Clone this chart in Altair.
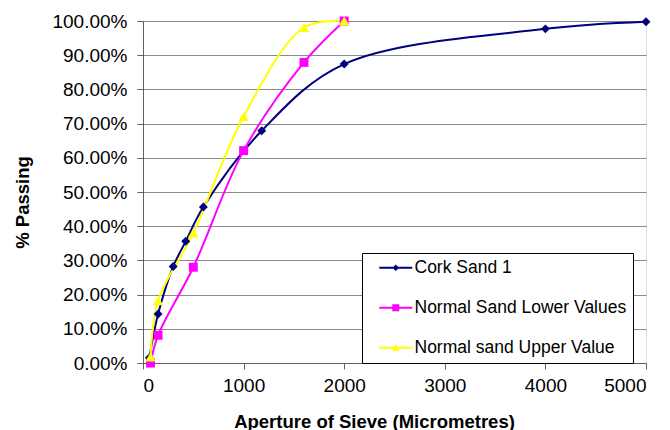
import altair as alt
import pandas as pd

SERIES = ["Cork Sand 1", "Normal Sand Lower Values", "Normal sand Upper Value"]
COLORS = ["#000080", "#FF00FF", "#FFFF00"]
MARKERS = ["diamond", "square", "triangle-up"]
MARKER_SIZES = [80, 80, 110]

CORK_X = [63, 150, 300, 425, 600, 1180, 2000, 4000, 5000]
CORK_Y = [0.015, 0.143, 0.282, 0.356, 0.456, 0.679, 0.874, 0.977, 0.998]
LOWER_X = [75, 150, 500, 1000, 1600, 2000]
LOWER_Y = [0.0, 0.081, 0.280, 0.621, 0.879, 1.0]
UPPER_X = [75, 150, 500, 1000, 1600, 2000]
UPPER_Y = [0.018, 0.182, 0.380, 0.721, 0.981, 1.0]

X_TICKS = [0, 1000, 2000, 3000, 4000, 5000]
Y_TICKS = [0, 0.1, 0.2, 0.3, 0.4, 0.5, 0.6, 0.7, 0.8, 0.9, 1]

# legend symbols: a line (thin filled bar) with the marker in the middle
LEGEND_PATHS = [
    "M-3.3,-0.2L3.3,-0.2L3.3,0.2L-3.3,0.2Z M0,-0.65L0.65,0L0,0.65L-0.65,0Z",
    "M-3.3,-0.2L3.3,-0.2L3.3,0.2L-3.3,0.2Z M-0.7,-0.7L0.7,-0.7L0.7,0.7L-0.7,0.7Z",
    "M-3.3,-0.2L3.3,-0.2L3.3,0.2L-3.3,0.2Z M0,-0.75L0.8,0.6L-0.8,0.6Z",
]

rows = []
for name, xs, ys in zip(SERIES, [CORK_X, LOWER_X, UPPER_X], [CORK_Y, LOWER_Y, UPPER_Y]):
    for xv, yv in zip(xs, ys):
        rows.append({"series": name, "x": xv, "y": yv})
df = pd.DataFrame(rows)

FONT = "Liberation Sans"

xscale = alt.Scale(domain=[0, 5000], nice=False)
yscale = alt.Scale(domain=[0, 1], nice=False)

x_enc = alt.X("x:Q", scale=xscale, axis=alt.Axis(
    values=X_TICKS, tickCount=20, format="d", grid=False, tickSize=6, labelPadding=7,
    labelFontSize=19, labelColor="black", labelFont=FONT, labelOverlap=False,
    title="Aperture of Sieve (Micrometres)", titleFont=FONT, titleFontSize=18.5,
    titleFontWeight="bold", titleColor="black", titleX=231, titleY=49,
    titleBaseline="top", domainColor="#606060", tickColor="#606060"))
y_enc = alt.Y("y:Q", scale=yscale, axis=alt.Axis(
    values=Y_TICKS, tickCount=20, format=".2%", grid=True, gridColor="#8a8a8a", gridWidth=1.2,
    tickSize=6, labelPadding=10, labelFontSize=19, labelColor="black", labelFont=FONT,
    labelOverlap=False,
    title="% Passing", titleFont=FONT, titleFontSize=18.5, titleFontWeight="bold",
    titleColor="black", titleX=-121, titleY=181, titleBaseline="middle",
    domainColor="#606060", tickColor="#606060"))

base = alt.Chart(df)

line_layers = []
point_layers = []
for name, col, shp, sz in zip(SERIES, COLORS, MARKERS, MARKER_SIZES):
    sub = base.transform_filter(alt.datum.series == name)
    line_layers.append(
        sub.mark_line(interpolate="catmull-rom", strokeWidth=2, color=col).encode(x=x_enc, y=y_enc)
    )
    point_layers.append(
        sub.mark_point(shape=shp, filled=True, size=sz, opacity=1, color=col).encode(x=x_enc, y=y_enc)
    )

leg = alt.Legend(
    title=None, orient="none", legendX=219, legendY=232,
    fillColor="white", strokeColor="black", padding=6,
    symbolSize=100, symbolStrokeWidth=0, symbolOffset=19, labelOffset=10,
    rowPadding=21, labelFont=FONT, labelFontSize=17.5, labelColor="black",
    labelLimit=400, cornerRadius=0,
    labelExpr="datum.label + '\u00a0\u00a0\u00a0\u00a0'",
)
legend_layer = base.transform_filter("datum.x < 0").mark_point(
    filled=True, opacity=1).encode(
    x=x_enc, y=y_enc,
    color=alt.Color("series:N", scale=alt.Scale(domain=SERIES, range=COLORS), legend=leg),
    shape=alt.Shape("series:N", scale=alt.Scale(domain=SERIES, range=LEGEND_PATHS), legend=leg),
)

chart = alt.layer(*line_layers, *point_layers, legend_layer).properties(
    width=503, height=342,
    autosize=alt.AutoSizeParams(type="none"),
    padding={"left": 135, "top": 13, "right": 16, "bottom": 70},
).configure_view(stroke="#808080", strokeWidth=1.2).configure(background="white")

chart.save("out.html", embed_options={"renderer": "svg", "actions": False})
